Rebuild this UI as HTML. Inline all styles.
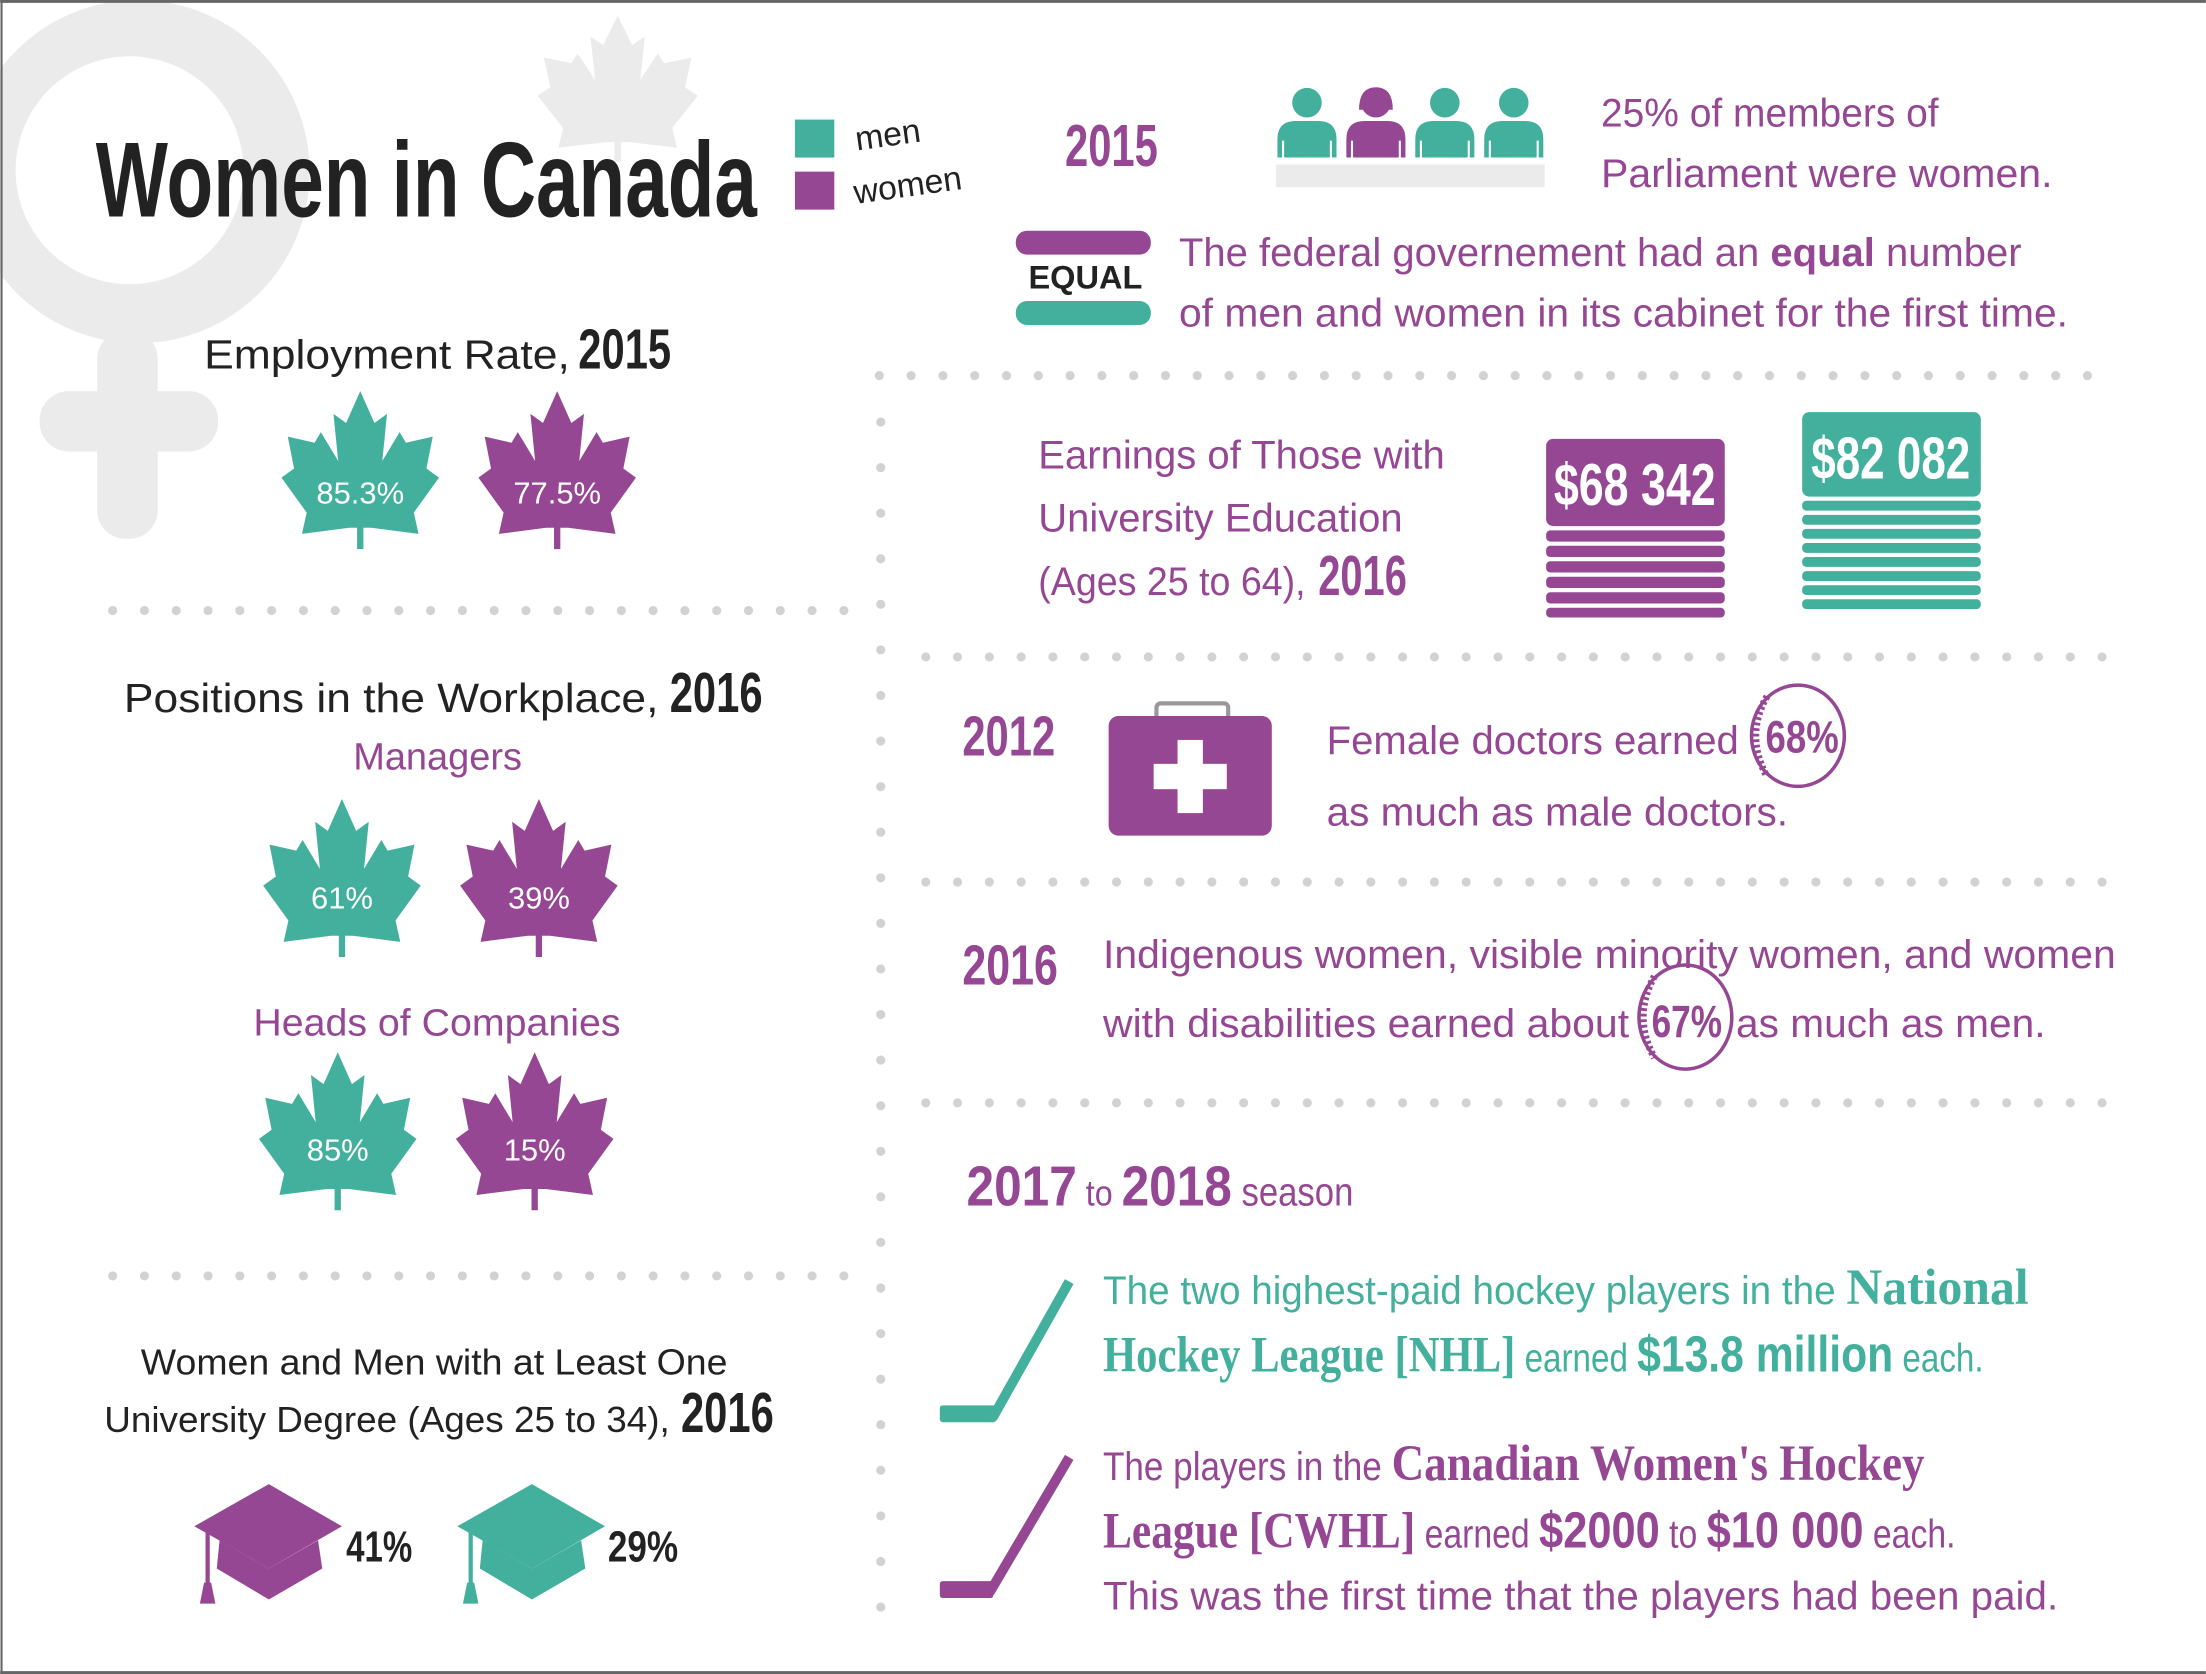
<!DOCTYPE html>
<html><head><meta charset="utf-8"><style>
html,body{margin:0;padding:0;background:#fff}
svg{display:block}
text{font-family:"Liberation Sans Narrow","Liberation Sans",sans-serif}
.b{font-weight:bold}
.p{fill:#964793}.t{fill:#42b09c}.k{fill:#222}
</style></head><body>
<svg width="2206" height="1674" viewBox="0 0 1568 1190" xmlns="http://www.w3.org/2000/svg">
<defs>
<path id="leaf" d="M50,0 L59,21 L67,15 L64,46 L75,27 L79,34 L96,30 L92,51 L100,57 L84,80 L87,94 L57,90 L52,90 L52,104 L48,104 L48,90 L43,90 L13,94 L16,80 L0,57 L8,51 L4,30 L21,34 L25,27 L36,46 L33,15 L41,21 Z"/>
<g id="cap"><path d="M53,0 L105,30 L53,60 L0,30 Z"/><path d="M18,40 L53,60 L88,40 L91,60 L53,82 L16,60 Z"/><rect x="8" y="33" width="3" height="40"/><path d="M7,70 L12,70 L15,85 L4,85 Z"/></g>
<g id="person"><circle cx="0" cy="-27" r="10.5"/><path d="M-21,12 L-21,-1 Q-21,-14 -8,-14 L8,-14 Q21,-14 21,-1 L21,12 Z"/></g>
</defs>
<rect x="0" y="0" width="1568" height="1190" fill="#fff"/>
<circle cx="98" cy="122" r="122" fill="#ebebeb"/>
<circle cx="92" cy="121" r="81" fill="#fff"/>
<rect x="69" y="235" width="43" height="148" rx="20" fill="#ebebeb"/>
<rect x="28" y="278" width="127" height="43" rx="21" fill="#ebebeb"/>
<use href="#leaf" transform="translate(382,11) scale(1.14,1.0)" fill="#ebebeb"/>
<line x1="0" y1="1" x2="1568" y2="1" stroke="#666" stroke-width="2"/>
<line x1="1" y1="0" x2="1" y2="1190" stroke="#666" stroke-width="1.5"/>
<line x1="0" y1="1189" x2="1568" y2="1189" stroke="#666" stroke-width="2"/>
<text x="68" y="154" class="b k" font-size="76" textLength="470" lengthAdjust="spacingAndGlyphs" font-family="Liberation Serif">Women in Canada</text>
<rect x="565" y="85" width="28" height="27" fill="#42b09c"/>
<rect x="565" y="122" width="28" height="27" fill="#964793"/>
<text x="609" y="107" font-size="24" class="k" transform="rotate(-8 609 107)">men</text>
<text x="608" y="145" font-size="24" class="k" transform="rotate(-8 608 145)">women</text>
<g stroke="#d2d2d2" stroke-width="6.5" stroke-linecap="round" stroke-dasharray="0 22.6">
<line x1="625" y1="267" x2="1500" y2="267"/>
<line x1="658" y1="467" x2="1500" y2="467"/>
<line x1="658" y1="627" x2="1500" y2="627"/>
<line x1="658" y1="784" x2="1500" y2="784"/>
<line x1="80" y1="434" x2="600" y2="434"/>
<line x1="80" y1="907" x2="600" y2="907"/>
</g>
<line x1="626" y1="300" x2="626" y2="1145" stroke="#d2d2d2" stroke-width="6.5" stroke-linecap="round" stroke-dasharray="0 32.4"/>
<text x="145" y="262" font-size="29" class="k" textLength="260" lengthAdjust="spacingAndGlyphs">Employment Rate,</text>
<text x="411" y="262" font-size="40" class="b k" textLength="66" lengthAdjust="spacingAndGlyphs">2015</text>
<use href="#leaf" transform="translate(200,278) scale(1.12,1.08)" fill="#42b09c"/>
<use href="#leaf" transform="translate(340,278) scale(1.12,1.08)" fill="#964793"/>
<text x="256" y="358" font-size="22" fill="#fff" text-anchor="middle">85.3%</text>
<text x="396" y="358" font-size="22" fill="#fff" text-anchor="middle">77.5%</text>
<text x="88" y="506" font-size="29" class="k" textLength="380" lengthAdjust="spacingAndGlyphs">Positions in the Workplace,</text>
<text x="476" y="506" font-size="40" class="b k" textLength="66" lengthAdjust="spacingAndGlyphs">2016</text>
<text x="311" y="547" font-size="27" class="p" text-anchor="middle">Managers</text>
<use href="#leaf" transform="translate(187,568) scale(1.12,1.08)" fill="#42b09c"/>
<use href="#leaf" transform="translate(327,568) scale(1.12,1.08)" fill="#964793"/>
<text x="243" y="646" font-size="22" fill="#fff" text-anchor="middle">61%</text>
<text x="383" y="646" font-size="22" fill="#fff" text-anchor="middle">39%</text>
<text x="180" y="736" font-size="27" class="p" textLength="261" lengthAdjust="spacingAndGlyphs">Heads of Companies</text>
<use href="#leaf" transform="translate(184,748) scale(1.12,1.08)" fill="#42b09c"/>
<use href="#leaf" transform="translate(324,748) scale(1.12,1.08)" fill="#964793"/>
<text x="240" y="825" font-size="22" fill="#fff" text-anchor="middle">85%</text>
<text x="380" y="825" font-size="22" fill="#fff" text-anchor="middle">15%</text>
<text x="100" y="977" font-size="26" class="k" textLength="417" lengthAdjust="spacingAndGlyphs">Women and Men with at Least One</text>
<text x="74" y="1018" font-size="26" class="k" textLength="402" lengthAdjust="spacingAndGlyphs">University Degree (Ages 25 to 34),</text>
<text x="484" y="1018" font-size="40" class="b k" textLength="66" lengthAdjust="spacingAndGlyphs">2016</text>
<use href="#cap" transform="translate(138,1055)" fill="#964793"/>
<use href="#cap" transform="translate(325,1055)" fill="#42b09c"/>
<text x="246" y="1110" font-size="31" class="b k" textLength="47" lengthAdjust="spacingAndGlyphs">41%</text>
<text x="432" y="1110" font-size="31" class="b k" textLength="50" lengthAdjust="spacingAndGlyphs">29%</text>
<text x="757" y="118" font-size="42" class="b p" textLength="66" lengthAdjust="spacingAndGlyphs">2015</text>
<g fill="#42b09c"><use href="#person" x="929" y="100"/><use href="#person" x="1027" y="100"/><use href="#person" x="1076" y="100"/></g>
<g fill="#964793"><use href="#person" x="978" y="100"/><path d="M966,78 Q966,62 978,62 Q990,62 990,78 Z"/></g>
<g stroke="#fff" stroke-width="1.5"><line x1="912" y1="100" x2="912" y2="112"/><line x1="946" y1="100" x2="946" y2="112"/><line x1="961" y1="100" x2="961" y2="112"/><line x1="995" y1="100" x2="995" y2="112"/><line x1="1010" y1="100" x2="1010" y2="112"/><line x1="1044" y1="100" x2="1044" y2="112"/><line x1="1059" y1="100" x2="1059" y2="112"/><line x1="1093" y1="100" x2="1093" y2="112"/></g>
<rect x="907" y="117" width="191" height="16" fill="#ebebeb"/>
<text x="1138" y="90" font-size="28" class="p" textLength="240" lengthAdjust="spacingAndGlyphs">25% of members of</text>
<text x="1138" y="133" font-size="28" class="p" textLength="321" lengthAdjust="spacingAndGlyphs">Parliament were women.</text>
<rect x="722" y="164" width="96" height="17" rx="8" fill="#964793"/>
<text x="731" y="205" font-size="23" class="b k" textLength="81" lengthAdjust="spacingAndGlyphs">EQUAL</text>
<rect x="722" y="214" width="96" height="17" rx="8" fill="#42b09c"/>
<text x="838" y="189" font-size="28" class="p" textLength="599" lengthAdjust="spacingAndGlyphs">The federal governement had an <tspan class="b">equal</tspan> number</text>
<text x="838" y="232" font-size="28" class="p" textLength="632" lengthAdjust="spacingAndGlyphs">of men and women in its cabinet for the first time.</text>
<text x="738" y="333" font-size="28" class="p" textLength="289" lengthAdjust="spacingAndGlyphs">Earnings of Those with</text>
<text x="738" y="378" font-size="28" class="p" textLength="259" lengthAdjust="spacingAndGlyphs">University Education</text>
<text x="738" y="423" font-size="28" class="p" textLength="190" lengthAdjust="spacingAndGlyphs">(Ages 25 to 64),</text>
<text x="937" y="423" font-size="40" class="b p" textLength="63" lengthAdjust="spacingAndGlyphs">2016</text>
<g fill="#964793">
<rect x="1099" y="312" width="127" height="62" rx="5"/>
<rect x="1099" y="377" width="127" height="8" rx="3"/><rect x="1099" y="388" width="127" height="8" rx="3"/><rect x="1099" y="399" width="127" height="8" rx="3"/><rect x="1099" y="410" width="127" height="8" rx="3"/><rect x="1099" y="421" width="127" height="8" rx="3"/><rect x="1099" y="432" width="127" height="7" rx="3"/>
</g>
<text x="1162" y="359" font-size="42" class="b" fill="#fff" text-anchor="middle" textLength="115" lengthAdjust="spacingAndGlyphs">$68 342</text>
<g fill="#42b09c">
<rect x="1281" y="293" width="127" height="60" rx="5"/>
<rect x="1281" y="356" width="127" height="7" rx="3"/><rect x="1281" y="366" width="127" height="7" rx="3"/><rect x="1281" y="376" width="127" height="7" rx="3"/><rect x="1281" y="386" width="127" height="7" rx="3"/><rect x="1281" y="396" width="127" height="7" rx="3"/><rect x="1281" y="406" width="127" height="7" rx="3"/><rect x="1281" y="416" width="127" height="7" rx="3"/><rect x="1281" y="426" width="127" height="7" rx="3"/>
</g>
<text x="1344" y="340" font-size="42" class="b" fill="#fff" text-anchor="middle" textLength="113" lengthAdjust="spacingAndGlyphs">$82 082</text>
<text x="684" y="537" font-size="40" class="b p" textLength="66" lengthAdjust="spacingAndGlyphs">2012</text>
<rect x="822" y="500" width="51" height="14" rx="3" fill="none" stroke="#999" stroke-width="3"/>
<rect x="788" y="509" width="116" height="85" rx="7" fill="#964793"/>
<rect x="837" y="526" width="18" height="52" fill="#fff"/><rect x="820" y="543" width="52" height="18" fill="#fff"/>
<text x="943" y="536" font-size="28" class="p" textLength="293" lengthAdjust="spacingAndGlyphs">Female doctors earned</text>
<ellipse cx="1278" cy="523" rx="33" ry="36" fill="#fff" stroke="#964793" stroke-width="2.5"/>
<path d="M1256,495 Q1240,523 1256,552" fill="none" stroke="#964793" stroke-width="5" stroke-dasharray="2 2"/>
<text x="1281" y="535" font-size="32" class="b p" text-anchor="middle" textLength="52" lengthAdjust="spacingAndGlyphs">68%</text>
<text x="943" y="587" font-size="28" class="p" textLength="328" lengthAdjust="spacingAndGlyphs">as much as male doctors.</text>
<text x="684" y="700" font-size="40" class="b p" textLength="68" lengthAdjust="spacingAndGlyphs">2016</text>
<text x="784" y="688" font-size="28" class="p" textLength="720" lengthAdjust="spacingAndGlyphs">Indigenous women, visible minority women, and women</text>
<text x="784" y="737" font-size="28" class="p" textLength="374" lengthAdjust="spacingAndGlyphs">with disabilities earned about</text>
<ellipse cx="1198" cy="723" rx="33" ry="37" fill="none" stroke="#964793" stroke-width="2.5"/>
<path d="M1176,694 Q1160,723 1176,752" fill="none" stroke="#964793" stroke-width="5" stroke-dasharray="2 2"/>
<text x="1199" y="737" font-size="32" class="b p" text-anchor="middle" textLength="50" lengthAdjust="spacingAndGlyphs">67%</text>
<text x="1234" y="737" font-size="28" class="p" textLength="220" lengthAdjust="spacingAndGlyphs">as much as men.</text>
<text x="687" y="857" class="p" textLength="275" lengthAdjust="spacingAndGlyphs"><tspan class="b" font-size="40">2017</tspan><tspan font-size="26"> to </tspan><tspan class="b" font-size="40">2018</tspan><tspan font-size="28"> season</tspan></text>
<path d="M760,911 L706,1007 L672,1007" fill="none" stroke="#42b09c" stroke-width="7" stroke-linejoin="round"/>
<rect x="668" y="999" width="40" height="12" rx="2" fill="#42b09c"/>
<path d="M760,1036 L704,1131 L672,1131" fill="none" stroke="#964793" stroke-width="7" stroke-linejoin="round"/>
<rect x="668" y="1124" width="38" height="12" rx="2" fill="#964793"/>
<text x="784" y="927" font-size="28" class="t" textLength="658" lengthAdjust="spacingAndGlyphs">The two highest-paid hockey players in the <tspan class="b" font-size="36" font-family="Liberation Serif">National</tspan></text>
<text x="784" y="975" font-size="28" class="t" textLength="626" lengthAdjust="spacingAndGlyphs"><tspan class="b" font-size="36" font-family="Liberation Serif">Hockey League [NHL]</tspan> earned <tspan class="b" font-size="36">$13.8 million</tspan> each.</text>
<text x="784" y="1052" font-size="28" class="p" textLength="584" lengthAdjust="spacingAndGlyphs">The players in the <tspan class="b" font-size="36" font-family="Liberation Serif">Canadian Women's Hockey</tspan></text>
<text x="784" y="1100" font-size="28" class="p" textLength="606" lengthAdjust="spacingAndGlyphs"><tspan class="b" font-size="36" font-family="Liberation Serif">League [CWHL]</tspan> earned <tspan class="b" font-size="36">$2000</tspan> to <tspan class="b" font-size="36">$10 000</tspan> each.</text>
<text x="784" y="1144" font-size="28" class="p" textLength="679" lengthAdjust="spacingAndGlyphs">This was the first time that the players had been paid.</text>
</svg>
</body></html>
